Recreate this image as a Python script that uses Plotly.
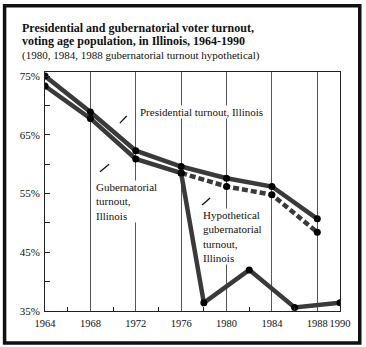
import plotly.graph_objects as go

# ---- data ----
pres_years = [1964, 1968, 1972, 1976, 1980, 1984, 1988]
pres_turnout = [75.0, 68.9, 62.3, 59.6, 57.6, 56.2, 50.7]

gov_years = [1964, 1968, 1972, 1976, 1978, 1982, 1986, 1990]
gov_turnout = [73.3, 67.8, 60.9, 58.5, 36.4, 42.0, 35.6, 36.4]

hyp_years = [1976, 1980, 1984, 1988]
hyp_turnout = [58.5, 56.2, 54.8, 48.4]

x_ticks = [1964, 1968, 1972, 1976, 1980, 1984, 1988, 1990]
x_minor = [1966, 1970, 1974, 1978, 1982, 1986]
y_ticks = [35, 45, 55, 65, 75]
y_minor = [40, 50, 60, 70]

title_lines = [
    "<b>Presidential and gubernatorial voter turnout,</b>",
    "<b>voting age population, in Illinois, 1964-1990</b>",
    "(1980, 1984, 1988 gubernatorial turnout hypothetical)",
]

FONT = "Liberation Serif"
LINE_C = "#3a3a3a"

fig = go.Figure()
fig.add_trace(go.Scatter(x=pres_years, y=pres_turnout, mode="lines+markers",
                         line=dict(color=LINE_C, width=4.5),
                         marker=dict(color="#000", size=7), hoverinfo="skip"))
fig.add_trace(go.Scatter(x=hyp_years, y=hyp_turnout, mode="lines+markers",
                         line=dict(color=LINE_C, width=4.5, dash="6px,3px"),
                         marker=dict(color="#000", size=7), hoverinfo="skip"))
fig.add_trace(go.Scatter(x=gov_years, y=gov_turnout, mode="lines+markers",
                         line=dict(color=LINE_C, width=4.5),
                         marker=dict(color="#000", size=7), hoverinfo="skip"))

ann = []
ys = [1.184, 1.130, 1.071]
for i, t in enumerate(title_lines):
    ann.append(dict(xref="paper", yref="paper", x=-0.085, y=ys[i], xanchor="left",
                    yanchor="middle", text=t, showarrow=False,
                    font=dict(family=FONT, size=12 if i < 2 else 11, color="#111")))

ann.append(dict(x=1972.3, y=68.9, xanchor="left", yanchor="middle",
                text="Presidential turnout, Illinois", showarrow=False,
                bgcolor="white", borderpad=0,
                font=dict(family=FONT, size=11, color="#111")))
ann.append(dict(x=1968.4, y=57.3, xanchor="left", yanchor="top", align="left",
                text="Gubernatorial<br>turnout,<br>Illinois", showarrow=False,
                bgcolor="white", borderpad=0,
                font=dict(family=FONT, size=11, color="#111")))
ann.append(dict(x=1977.8, y=52.6, xanchor="left", yanchor="top", align="left",
                text="Hypothetical<br>gubernatorial<br>turnout,<br>Illinois", showarrow=False,
                bgcolor="white", borderpad=0,
                font=dict(family=FONT, size=11, color="#111")))

shapes = []
for (x0, y0, x1, y1) in [(1970.6, 67.0, 1971.2, 68.2),
                         (1968.85, 58.7, 1969.65, 60.0),
                         (1977.85, 53.05, 1978.55, 54.25)]:
    shapes.append(dict(type="line", xref="x", yref="y", x0=x0, y0=y0, x1=x1, y1=y1,
                       line=dict(color="#111", width=1.3), layer="above"))
# outer frame
shapes.append(dict(type="rect", xref="paper", yref="paper",
                   x0=-0.137, x1=1.067, y0=-0.134, y1=1.277,
                   line=dict(color="#111", width=3.5), layer="below"))

fig.update_layout(
    width=366, height=347,
    margin=dict(l=45, r=26, t=72, b=36),
    paper_bgcolor="white", plot_bgcolor="white",
    showlegend=False,
    annotations=ann, shapes=shapes,
    font=dict(family=FONT, size=11, color="#111"),
)
fig.update_xaxes(range=[1964, 1990], tickvals=x_ticks, ticktext=[str(v) for v in x_ticks],
                 tickangle=0, ticklabelstandoff=2,
                 showline=True, linecolor="#222", linewidth=1, mirror=True,
                 showgrid=True, gridcolor="#555", gridwidth=1,
                 ticks="", tickfont=dict(family=FONT, size=10.5, color="#111"),
                 minor=dict(tickvals=x_minor, ticks="inside", ticklen=4, tickcolor="#222",
                            showgrid=False),
                 zeroline=False)
fig.update_yaxes(range=[35, 75.7], tickvals=y_ticks, ticktext=[f"{v}%" for v in y_ticks],
                 ticklabelstandoff=2,
                 showline=True, linecolor="#222", linewidth=1, mirror=True,
                 showgrid=False, ticks="inside", ticklen=5, tickcolor="#222",
                 tickfont=dict(family=FONT, size=11, color="#111"),
                 minor=dict(tickvals=y_minor, ticks="inside", ticklen=5, tickcolor="#222"),
                 zeroline=False)

fig.write_html("out.html")
